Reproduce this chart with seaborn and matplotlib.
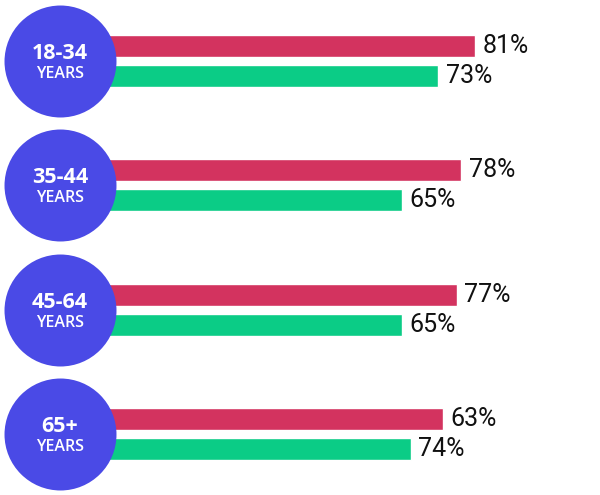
import pandas as pd
import numpy as np
from matplotlib import pyplot as plt
import seaborn as sns

# Data
groups = ["18-34", "35-44", "45-64", "65+"]
series = ["red", "green"]
red_values = [81, 78, 77, 74]      # bar lengths as drawn
green_values = [73, 65, 65, 67]
red_labels = ["81%", "78%", "77%", "63%"]   # printed labels
green_labels = ["73%", "65%", "65%", "74%"]

colors = {"red": "#d3335f", "green": "#0bcc86"}
circle_color = "#4a4ae6"

df = pd.DataFrame({
    "group": groups * 2,
    "series": ["red"] * 4 + ["green"] * 4,
    "value": red_values + green_values,
})

sns.set_style("white")

fig = plt.figure(figsize=(6, 4.95), dpi=100)
ax = fig.add_axes([0, 0, 1, 1])

sns.barplot(
    data=df, x="value", y="group", hue="series",
    order=groups, hue_order=series, palette=colors, saturation=1,
    width=0.482, gap=0.27, orient="h", legend=False, ax=ax, zorder=1,
)

ax.set_xlim(-23.1, 108.4)
ax.set_ylim(3.49, -0.49)
ax.axis("off")

# circles with age labels
circle_x = -10
ax.scatter([circle_x] * 4, range(4), s=6500, color=circle_color, zorder=3, linewidths=0)
for i, g in enumerate(groups):
    ax.text(circle_x, i - 0.06, g, color="white", fontsize=15.5, fontweight="bold",
            ha="center", va="center", family="Open Sans", zorder=4)
    ax.text(circle_x, i + 0.105, "YEARS", color="white", fontsize=11.5, fontweight="semibold",
            ha="center", va="center", family="Open Sans", zorder=4)

# value labels
offset = 0.1205
label_font = ["Roboto", "DejaVu Sans"]
for i in range(4):
    ax.text(red_values[i] + 1.6, i - offset, red_labels[i], fontsize=18, color="#111111",
            ha="left", va="center", family=label_font)
    ax.text(green_values[i] + 1.6, i + offset, green_labels[i], fontsize=18, color="#111111",
            ha="left", va="center", family=label_font)

fig.savefig("out.png", dpi=100)
